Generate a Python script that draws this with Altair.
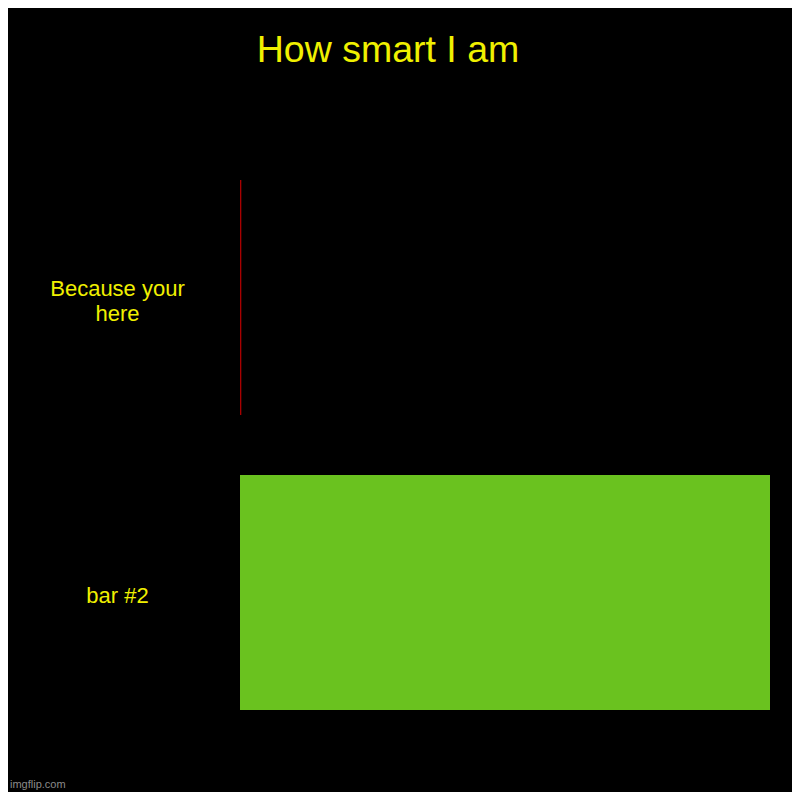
import altair as alt
import pandas as pd

categories = ["Because your here", "bar #2"]
values = [0.25, 100]
bar_colors = ["#a80000", "#6ac21f"]

df = pd.DataFrame({"category": categories, "value": values})

YELLOW = "#f0f000"
FONT = "Liberation Sans"

bars = alt.Chart(df).mark_bar(opacity=1).encode(
    y=alt.Y(
        "category:N",
        sort=categories,
        scale=alt.Scale(paddingInner=0.2034, paddingOuter=0.1017),
        axis=alt.Axis(
            title=None,
            domain=False,
            ticks=False,
            grid=False,
            labelPadding=123,
            labelAlign="center",
            labelBaseline="middle",
            labelColor=YELLOW,
            labelFont=FONT,
            labelFontSize=22,
            labelLineHeight=25,
            labelOffset={"condition": {"test": "datum.value == 'bar #2'", "value": 3}, "value": -9},
            labelLimit=0,
            labelExpr="datum.label == 'Because your here' ? ['Because your', 'here'] : datum.label",
        ),
    ),
    x=alt.X(
        "value:Q",
        scale=alt.Scale(domain=[0, 100], nice=False, zero=True),
        axis=None,
    ),
    color=alt.Color(
        "category:N",
        scale=alt.Scale(domain=categories, range=bar_colors),
        legend=None,
    ),
)

watermark = alt.Chart(pd.DataFrame({"t": ["imgflip.com"]})).mark_text(
    align="left", baseline="alphabetic", fontSize=11, font=FONT, color="#8a8a8a"
).encode(
    text="t:N",
    x=alt.value(-230),
    y=alt.value(638),
)

chart = alt.layer(bars, watermark).properties(
    width=530,
    height=590,
    background="black",
    autosize=alt.AutoSizeParams(type="none"),
    padding={"left": 232, "top": 142, "right": 22, "bottom": 52},
    title=alt.TitleParams(
        "How smart I am",
        anchor="middle",
        frame="group",
        dx=-117,
        offset=51,
        baseline="alphabetic",
        color=YELLOW,
        font=FONT,
        fontSize=37.5,
        fontWeight="normal",
    ),
).configure_view(strokeWidth=0, stroke=None)

chart.save("out.html", embed_options={"renderer": "svg", "actions": False})
